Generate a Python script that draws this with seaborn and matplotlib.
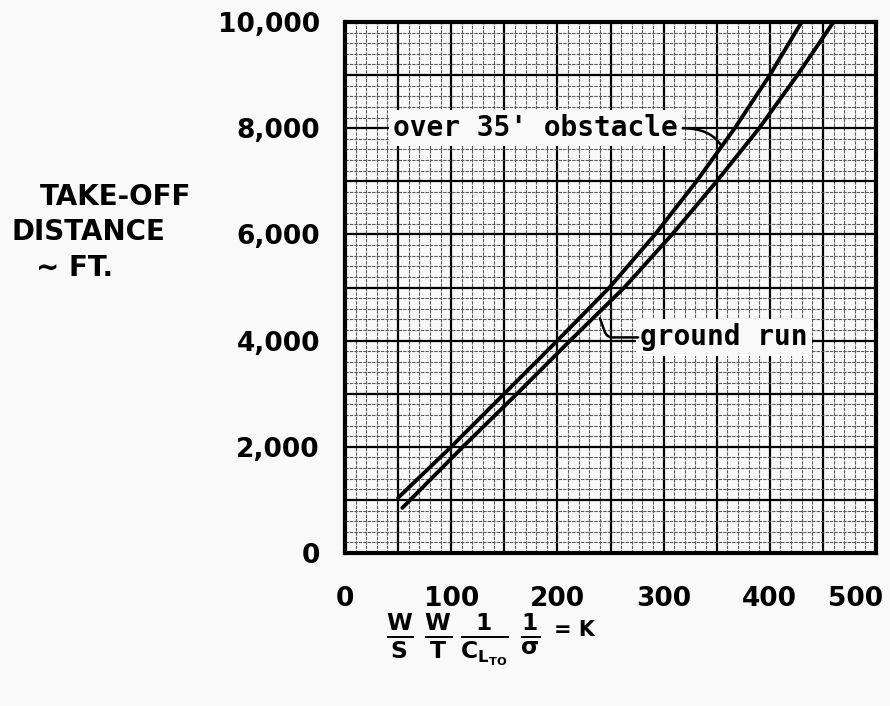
import numpy as np
import pandas as pd
import matplotlib
matplotlib.use("Agg")
import matplotlib.pyplot as plt
import matplotlib.transforms as mtransforms
from matplotlib.ticker import MultipleLocator, FuncFormatter
import seaborn as sns

# ---- data ----
obstacle_distance_ft = [1040, 2000, 3000, 4000, 5000, 6000, 7000, 8000, 9000, 10000]
obstacle_k = [50, 100, 150, 200, 249, 292, 331, 367, 400, 430]
ground_distance_ft = [850, 2000, 3000, 4000, 5000, 6000, 7000, 8000, 9000, 10000]
ground_k = [54, 111, 162, 212, 263, 308, 350, 390, 426, 460]
series_names = ["over 35' obstacle", "ground run"]
x_tick_values = [0, 100, 200, 300, 400, 500]
y_tick_values = [0, 2000, 4000, 6000, 8000, 10000]

bg = "#f8f9f8"

sns.set_theme(style="white")
plt.rcParams["font.family"] = ["DejaVu Sans"]
plt.rcParams["mathtext.fontset"] = "dejavusans"
plt.rcParams["mathtext.default"] = "bf"
plt.rcParams["text.color"] = "black"
plt.rcParams["xtick.color"] = "black"
plt.rcParams["ytick.color"] = "black"

df = pd.concat([
    pd.DataFrame({"K": obstacle_k, "distance": obstacle_distance_ft, "series": series_names[0]}),
    pd.DataFrame({"K": ground_k, "distance": ground_distance_ft, "series": series_names[1]}),
], ignore_index=True)

fig = plt.figure(figsize=(8.9, 7.06), dpi=100, facecolor=bg)
ax = fig.add_axes([345 / 890, 153 / 706, 531 / 890, 531 / 706])
ax.set_facecolor(bg)

sns.lineplot(data=df, x="K", y="distance", hue="series", units="series",
             estimator=None, sort=False, palette=["black", "black"],
             linewidth=2.8, legend=False, ax=ax, zorder=5)

ax.set_xlim(0, 500)
ax.set_ylim(0, 10000)

# graph-paper grid
ax.xaxis.set_major_locator(MultipleLocator(50))
ax.yaxis.set_major_locator(MultipleLocator(1000))
ax.xaxis.set_minor_locator(MultipleLocator(10))
ax.yaxis.set_minor_locator(MultipleLocator(200))
ax.grid(which="major", color="black", linewidth=1.6)
ax.grid(which="minor", color="#5a5a5a", linewidth=0.8, linestyle=(0, (3, 1)))
ax.set_axisbelow(True)

ax.xaxis.set_major_formatter(FuncFormatter(lambda v, p: f"{int(v)}" if int(v) in x_tick_values else ""))
ax.yaxis.set_major_formatter(FuncFormatter(lambda v, p: f"{int(v):,}" if int(v) in y_tick_values else ""))
ax.tick_params(which="both", length=0)
ax.tick_params(axis="x", pad=24, labelsize=19)
ax.tick_params(axis="y", pad=18, labelsize=19)
for lab in ax.get_xticklabels() + ax.get_yticklabels():
    lab.set_fontweight("bold")
# shift the last x label left so it stays inside the picture
for lab in ax.get_xticklabels():
    if lab.get_text() == "500":
        lab.set_transform(lab.get_transform() + mtransforms.ScaledTranslation(-0.2, 0, fig.dpi_scale_trans))

for s in ax.spines.values():
    s.set_visible(True)
    s.set_color("black")
    s.set_linewidth(3)

ax.set_xlabel("")
ax.set_ylabel("")

# curve labels
ax.text(45, 8000, series_names[0], family="DejaVu Sans Mono", fontweight="bold",
        fontsize=20, va="center", ha="left", zorder=6,
        bbox=dict(facecolor=bg, edgecolor="none", pad=3))
ax.annotate("", xy=(355, 7650), xytext=(318, 8000), zorder=6,
            arrowprops=dict(arrowstyle="-", color="black", lw=1.8,
                            connectionstyle="angle3,angleA=0,angleB=-60",
                            shrinkA=0, shrinkB=0))

ax.text(278, 4060, series_names[1], family="DejaVu Sans Mono", fontweight="bold",
        fontsize=20, va="center", ha="left", zorder=6,
        bbox=dict(facecolor=bg, edgecolor="none", pad=3))
ax.annotate("", xy=(240, 4420), xytext=(276, 4060), zorder=6,
            arrowprops=dict(arrowstyle="-", color="black", lw=1.8,
                            connectionstyle="angle,angleA=0,angleB=-70,rad=6",
                            shrinkA=0, shrinkB=0))

# y-axis title
fig.text(40 / 890, 1 - 197 / 706, "TAKE-OFF", fontsize=20, fontweight="bold", va="center", ha="left")
fig.text(12 / 890, 1 - 232 / 706, "DISTANCE", fontsize=20, fontweight="bold", va="center", ha="left")
fig.text(36 / 890, 1 - 268 / 706, "~ FT.", fontsize=20, fontweight="bold", va="center", ha="left")

# x-axis title (formula)
fig.text(463 / 890, 1 - 640 / 706,
         r"$\frac{W}{S}\;\frac{W}{T}\,\frac{1}{C_{L_{TO}}}\;\frac{1}{\sigma}$",
         fontsize=24, ha="center", va="center")
fig.text(574 / 890, 1 - 630 / 706, "= K", fontsize=15, fontweight="bold",
         ha="center", va="center")

fig.savefig("out.png", dpi=100, facecolor=bg)
